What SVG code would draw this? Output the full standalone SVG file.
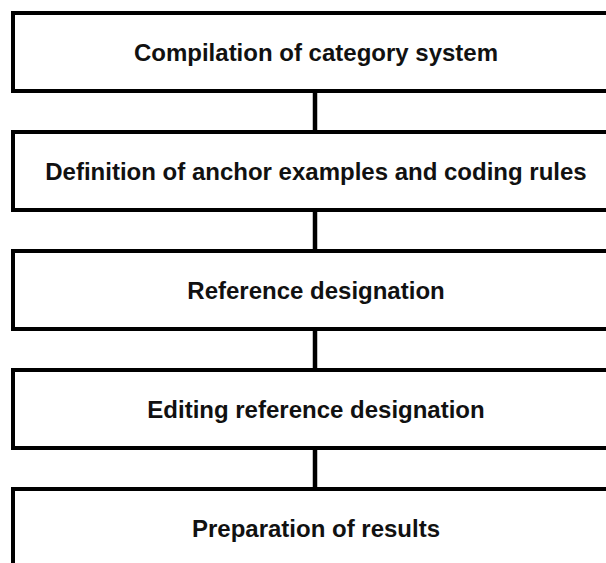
<svg xmlns="http://www.w3.org/2000/svg" width="606" height="563" viewBox="0 0 606 563">
  <style>
    .box { fill: #ffffff; stroke: #000000; stroke-width: 4; }
    .label { font-family: "Liberation Sans", Arial, sans-serif; font-weight: bold; font-size: 24px; fill: #111111; text-anchor: middle; dominant-baseline: central; }
    .link { stroke: #000000; stroke-width: 4.5; fill: none; }
  </style>
  <rect width="606" height="563" fill="#ffffff"/>

  <!-- vertical links between the steps -->
  <g id="connectors">
    <line class="link" x1="315" y1="91" x2="315" y2="132"/>
    <line class="link" x1="315" y1="210" x2="315" y2="251"/>
    <line class="link" x1="315" y1="329" x2="315" y2="370"/>
    <line class="link" x1="315" y1="448" x2="315" y2="489"/>
  </g>

  <g id="step1">
    <rect class="box" x="13" y="13" width="620" height="78"/>
    <text class="label" x="316" y="52">Compilation of category system</text>
  </g>
  <g id="step2">
    <rect class="box" x="13" y="132" width="620" height="78"/>
    <text class="label" x="316" y="171">Definition of anchor examples and coding rules</text>
  </g>
  <g id="step3">
    <rect class="box" x="13" y="251" width="620" height="78"/>
    <text class="label" x="316" y="290">Reference designation</text>
  </g>
  <g id="step4">
    <rect class="box" x="13" y="370" width="620" height="78"/>
    <text class="label" x="316" y="409">Editing reference designation</text>
  </g>
  <g id="step5">
    <rect class="box" x="13" y="489" width="620" height="100"/>
    <text class="label" x="316" y="528">Preparation of results</text>
  </g>
</svg>
